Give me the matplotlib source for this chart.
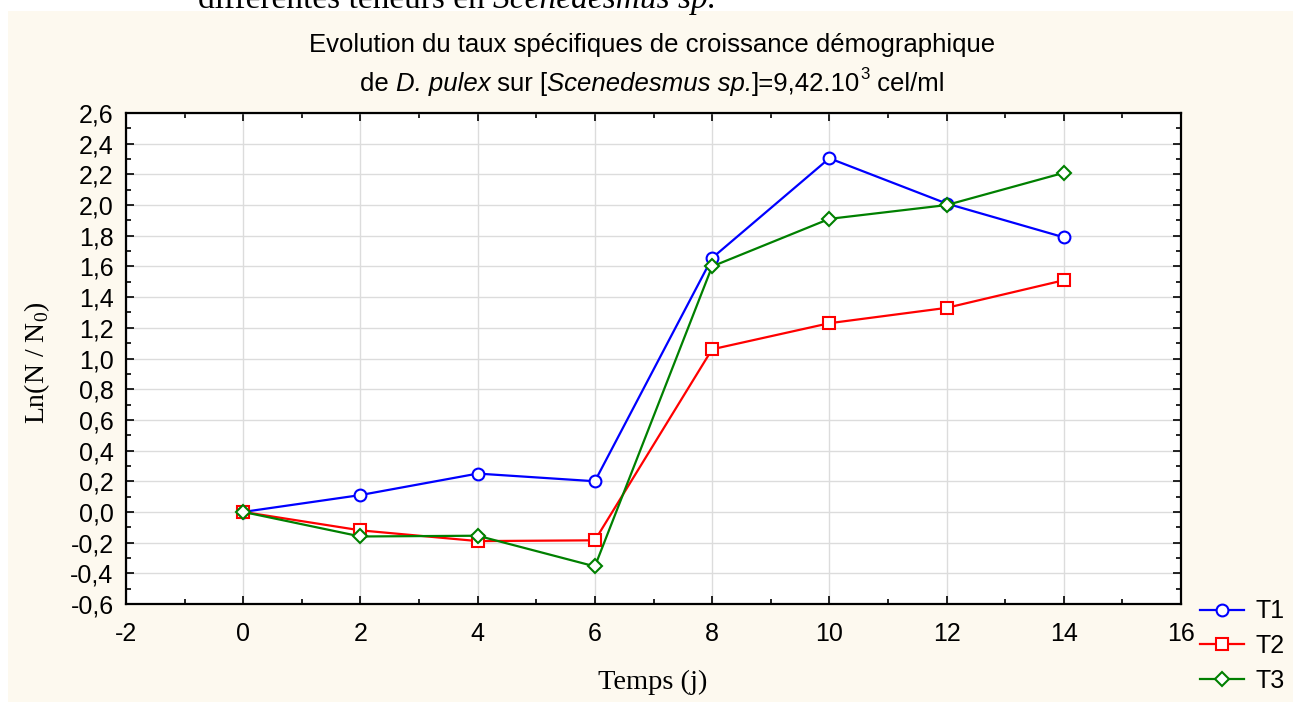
import matplotlib
matplotlib.use("Agg")
import matplotlib.pyplot as plt
from matplotlib.patches import Rectangle
from matplotlib.ticker import MultipleLocator, FuncFormatter

# data
jours = [0, 2, 4, 6, 8, 10, 12, 14]
t1 = [0.0, 0.11, 0.25, 0.20, 1.655, 2.305, 2.01, 1.79]
t2 = [0.0, -0.12, -0.19, -0.185, 1.06, 1.23, 1.33, 1.51]
t3 = [0.0, -0.16, -0.155, -0.355, 1.60, 1.91, 2.00, 2.21]
series_names = ["T1", "T2", "T3"]

W, H = 1293, 702
fig = plt.figure(figsize=(W / 100, H / 100), dpi=100)
fig.patch.set_facecolor('white')
# cream panel behind the chart
fig.patches.append(Rectangle((8 / W, 0), 1 - 8 / W, 1 - 11 / H, transform=fig.transFigure,
                             facecolor='#FDF9EF', edgecolor='none', zorder=-10))
renderer = fig.canvas.get_renderer()


def runs(x0, y, parts, family, size, center=False):
    # write a line made of several pieces (regular / italic / superscript)
    objs = []
    x = x0
    for txt, st in parts:
        if st == 'sup':
            t = fig.text(x, y + size * 0.45 / 72 * 100 / H, txt, family=family, fontsize=size * 0.65,
                         va='baseline', ha='left')
        else:
            t = fig.text(x, y, txt, family=family, fontsize=size, style=st, va='baseline', ha='left')
        x = t.get_window_extent(renderer).x1 / W
        objs.append(t)
    if center:
        shift = (x - x0) / 2
        for t in objs:
            px, py = t.get_position()
            t.set_position((px - shift, py))


# caption text from the page above, cut off at the top
runs(198 / W, 1 - 8 / H, [("différentes teneurs en ", 'normal'), ("Scenedesmus sp.", 'italic')],
     'Liberation Serif', 24)

ax = fig.add_axes([126 / W, 1 - 604 / H, (1181 - 126) / W, (604 - 113) / H])
ax.set_facecolor('white')

styles = [('blue', 'o', 8.5), ('red', 's', 8), ('green', 'D', 7)]
for ys, name, (c, m, ms) in zip([t1, t2, t3], series_names, styles):
    ax.plot(jours, ys, color=c, lw=1.6, marker=m, ms=ms, mfc='white', mec=c, mew=1.5, label=name)

ax.set_xlim(-2, 16)
ax.set_ylim(-0.6, 2.6)
ax.xaxis.set_major_locator(MultipleLocator(2))
ax.xaxis.set_minor_locator(MultipleLocator(1))
ax.yaxis.set_major_locator(MultipleLocator(0.2))
ax.yaxis.set_minor_locator(MultipleLocator(0.1))
ax.yaxis.set_major_formatter(FuncFormatter(lambda v, p: ("%.1f" % v).replace('.', ',').replace('-0,0', '0,0')))
ax.xaxis.set_major_formatter(FuncFormatter(lambda v, p: "%d" % round(v)))
ax.tick_params(which='both', direction='in', top=True, right=True, labelfontfamily='Liberation Sans',
               labelsize=18, width=1.2)
ax.tick_params(which='major', length=6)
ax.tick_params(axis='y', which='major', pad=9)
ax.tick_params(axis='x', which='major', pad=13)
ax.tick_params(which='minor', length=3.5)
ax.grid(True, which='major', color='#DCDCDC', lw=1)
ax.set_axisbelow(True)
for s in ax.spines.values():
    s.set_linewidth(1.6)

fig.text(652 / W, 1 - 52 / H, "Evolution du taux spécifiques de croissance démographique",
         ha='center', va='baseline', family='Liberation Sans', fontsize=18.5)
runs(652 / W, 1 - 91 / H, [("de ", 'normal'), ("D. pulex", 'italic'), (" sur [", 'normal'),
                           ("Scenedesmus sp.", 'italic'), ("]=9,42.10", 'normal'), ("3", 'sup'),
                           (" cel/ml", 'normal')], 'Liberation Sans', 18.5, center=True)

fig.text(653 / W, 1 - 682 / H, "Temps (j)", ha='center', va='center', family='Liberation Serif',
         fontsize=20.5)
fig.text(37 / W, 1 - 363 / H, r"Ln(N / N$_{\mathregular{0}}$)", ha='center', va='center',
         rotation=90, family='Liberation Serif', fontsize=20)

fig.legend(loc='center left', bbox_to_anchor=(1200 / W, 1 - 646 / H), frameon=False,
           prop={'family': 'Liberation Sans', 'size': 18}, handlelength=1.75, handletextpad=0.45,
           labelspacing=0.42, borderaxespad=0, borderpad=0)

fig.savefig("out.png", dpi=100)
